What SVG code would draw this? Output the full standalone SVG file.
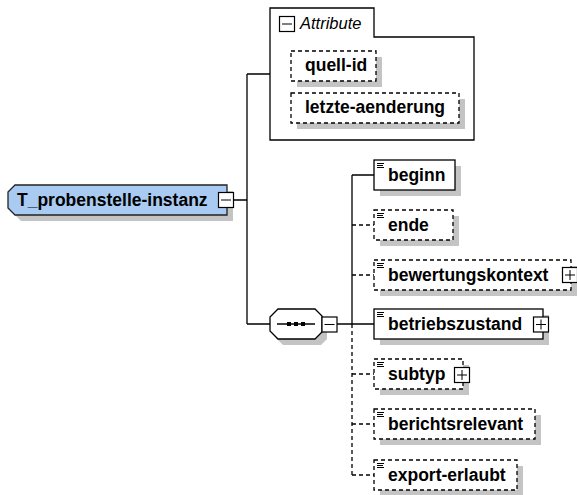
<svg xmlns="http://www.w3.org/2000/svg" width="577" height="495" viewBox="0 0 577 495">
<style>
text{font-family:"Liberation Sans",Arial,sans-serif;fill:#000}
.lbl{font-size:17.5px;font-weight:bold}
.sh{fill:#c4c4c4;stroke:none}
.box{fill:#fff;stroke:#000;stroke-width:1.3}
.opt{stroke-dasharray:4,3}
.ln{fill:none;stroke:#000;stroke-width:1.3}
.dl{fill:none;stroke:#000;stroke-width:1.3;stroke-dasharray:4,3}
.ic{stroke:#000;stroke-width:1}
.pm{fill:#fff;stroke:#000;stroke-width:1.2}
</style>
<defs>
<g id="icon"><path class="ic" d="M3,3.5h7M3,5.5h6M3,7.5h7"/></g>
<g id="plus"><rect class="pm" x="-7.5" y="-7.5" width="15" height="15"/><path class="ic" d="M-5,0h10M0,-5v10"/></g>
<g id="minus"><rect class="pm" x="-7.5" y="-7.5" width="15" height="15"/><path class="ic" d="M-5,0h10"/></g>
</defs>

<g id="connectors">
<path class="ln" d="M233,200H247M247,74V324M247,74H270M247,324H270M337,324H374M352,175V324M352,175H374"/>
<path class="dl" d="M352,225H374M352,275H374M352,324V475M352,374H374M352,424H374M352,475H374"/>
</g>

<g id="root">
<polygon class="sh" points="21,191 233,191 233,221 21,221 14,214 14,198"/>
<polygon points="15,185 227,185 227,215 15,215 8,208 8,192" fill="#a9cbf2" stroke="#222" stroke-width="1.3"/>
<text class="lbl" x="17" y="206">T_probenstelle-instanz</text>
<use href="#minus" x="226" y="200"/>
</g>

<g id="attributes">
<path d="M270,8H374V37H474V140H270Z" fill="#fff" stroke="#000" stroke-width="1.3"/>
<use href="#minus" x="287" y="24"/>
<text x="300" y="29" font-size="16.5" font-style="italic" fill="#1a1a2a">Attribute</text>
</g>

<g id="quell-id">
<rect class="sh" x="297" y="57" width="85" height="30"/>
<rect class="box opt" x="291" y="51" width="85" height="30"/>
<text class="lbl" x="305" y="71">quell-id</text>
</g>

<g id="letzte-aenderung">
<rect class="sh" x="297" y="99" width="168" height="30"/>
<rect class="box opt" x="291" y="93" width="168" height="30"/>
<text class="lbl" x="305" y="113">letzte-aenderung</text>
</g>

<g id="sequence">
<polygon class="sh" points="283,315 321,315 327,321 327,339 321,345 283,345 276,338 276,321"/>
<polygon points="278,309 315,309 322,316 322,332 315,339 278,339 270,331 270,317" fill="#fff" stroke="#000" stroke-width="1.3"/>
<path class="ln" d="M277,324H315"/>
<rect x="287" y="322" width="4" height="4" fill="#000"/>
<rect x="294" y="322" width="4" height="4" fill="#000"/>
<rect x="301" y="322" width="4" height="4" fill="#000"/>
<use href="#minus" x="329.5" y="324.5"/>
</g>

<g id="beginn">
<rect class="sh" x="380" y="166" width="81" height="30"/>
<rect class="box" x="374" y="160" width="81" height="30"/>
<use href="#icon" x="374" y="160"/>
<text class="lbl" x="388" y="181">beginn</text>
</g>

<g id="ende">
<rect class="sh" x="380" y="216" width="79" height="30"/>
<rect class="box opt" x="374" y="210" width="79" height="30"/>
<use href="#icon" x="374" y="210"/>
<text class="lbl" x="388" y="231">ende</text>
</g>

<g id="bewertungskontext">
<rect class="sh" x="380" y="266" width="197" height="30"/>
<rect class="box opt" x="374" y="260" width="197" height="30"/>
<use href="#icon" x="374" y="260"/>
<text class="lbl" x="388" y="281">bewertungskontext</text>
<use href="#plus" x="570" y="275"/>
</g>

<g id="betriebszustand">
<rect class="sh" x="380" y="315" width="169" height="30"/>
<rect class="box" x="374" y="309" width="169" height="30"/>
<use href="#icon" x="374" y="309"/>
<text class="lbl" x="388" y="330">betriebszustand</text>
<use href="#plus" x="541" y="324.5"/>
</g>

<g id="subtyp">
<rect class="sh" x="380" y="365" width="89" height="30"/>
<rect class="box opt" x="374" y="359" width="89" height="30"/>
<use href="#icon" x="374" y="359"/>
<text class="lbl" x="388" y="380">subtyp</text>
<use href="#plus" x="462" y="375"/>
</g>

<g id="berichtsrelevant">
<rect class="sh" x="380" y="415" width="161" height="30"/>
<rect class="box opt" x="374" y="409" width="161" height="30"/>
<use href="#icon" x="374" y="409"/>
<text class="lbl" x="388" y="430">berichtsrelevant</text>
</g>

<g id="export-erlaubt">
<rect class="sh" x="380" y="466" width="143" height="30"/>
<rect class="box opt" x="374" y="460" width="143" height="30"/>
<use href="#icon" x="374" y="460"/>
<text class="lbl" x="388" y="481">export-erlaubt</text>
</g>
</svg>
